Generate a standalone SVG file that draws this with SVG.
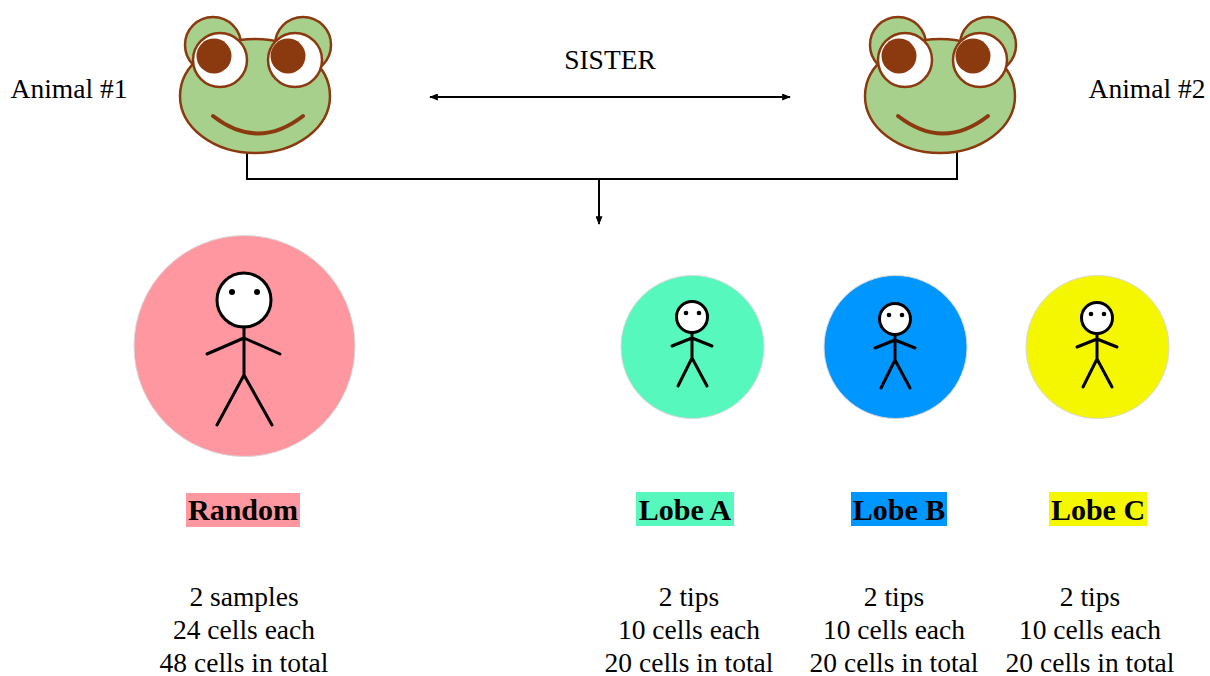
<svg xmlns="http://www.w3.org/2000/svg" width="1210" height="676" viewBox="0 0 1210 676">
  <style>
    .txt { font-family: "Liberation Serif", "Times New Roman", serif; font-size: 27.5px; fill: #000; text-anchor: middle; }
    .lbl { font-family: "Liberation Serif", "Times New Roman", serif; font-size: 30px; font-weight: bold; fill: #000; text-anchor: middle; }
    .skin { fill: #A8D08D; stroke: #8B3A0F; stroke-width: 2.5; }
    .eye { fill: #fff; stroke: #8B3A0F; stroke-width: 2.5; }
    .pupil { fill: #8B3A0F; }
    .smile { fill: none; stroke: #8B3A0F; stroke-width: 4; stroke-linecap: round; }
    .person { fill: none; stroke: #000; stroke-width: 3; stroke-linecap: round; stroke-linejoin: round; }
    .head { fill: #fff; stroke: #000; stroke-width: 3; }
    .wire { fill: none; stroke: #000; stroke-width: 2; }
    .disc { stroke: #d9d9d9; stroke-width: 1; }
  </style>
  <defs>
    <marker id="arrow" viewBox="0 0 10 8" refX="9" refY="4" markerWidth="9" markerHeight="7" markerUnits="userSpaceOnUse" orient="auto-start-reverse">
      <path d="M0,0 L10,4 L0,8 Z" fill="#000"/>
    </marker>
    <!-- frog face, centred on the head -->
    <g id="frog">
      <circle class="skin" cx="-42" cy="-51" r="28"/>
      <circle class="skin" cx="48" cy="-51" r="28"/>
      <ellipse class="skin" cx="0" cy="0" rx="75" ry="57"/>
      <circle class="eye" cx="-35" cy="-36" r="27"/>
      <circle class="eye" cx="40" cy="-36" r="27"/>
      <circle class="pupil" cx="-41" cy="-40" r="17.5"/>
      <circle class="pupil" cx="33" cy="-40" r="17.5"/>
      <path class="smile" d="M-42,20 Q3,55 48,20"/>
    </g>
    <!-- small stick figure, centred on the head -->
    <g id="kid">
      <circle class="head" cx="0" cy="0" r="15.5"/>
      <circle cx="-6" cy="-4" r="2.3" fill="#000"/>
      <circle cx="7" cy="-4" r="2.3" fill="#000"/>
      <path class="person" d="M0,16 V41 M-20,29 L0,21 L20,29 M-14,69 L0,41 L15,69"/>
    </g>
  </defs>

  <!-- connectors -->
  <g id="connectors">
    <line class="wire" x1="430" y1="97" x2="790" y2="97" marker-start="url(#arrow)" marker-end="url(#arrow)"/>
    <polyline class="wire" points="247,152 247,179 957,179 957,151"/>
    <line class="wire" x1="599" y1="179" x2="599" y2="224" marker-end="url(#arrow)"/>
  </g>

  <g id="animal1">
    <use href="#frog" x="255" y="96"/>
    <text class="txt" x="69" y="98">Animal #1</text>
  </g>
  <g id="animal2">
    <use href="#frog" x="940" y="96"/>
    <text class="txt" x="1147" y="98">Animal #2</text>
  </g>
  <g id="sister">
    <text class="txt" x="610" y="69">SISTER</text>
  </g>

  <g id="random">
    <circle class="disc" cx="244.5" cy="346" r="110.5" fill="#FF97A1"/>
    <circle class="head" cx="244" cy="300" r="27"/>
    <circle cx="232" cy="292" r="3" fill="#000"/>
    <circle cx="257" cy="292" r="3" fill="#000"/>
    <path class="person" d="M244,327 V375 M207,354 L244,338 L280,354 M217,425 L244,375 L272,425"/>
    <rect x="186" y="493" width="114" height="34" fill="#FF97A1"/>
    <text class="lbl" x="243" y="520">Random</text>
    <text class="txt" x="244" y="606">2 samples</text>
    <text class="txt" x="244" y="639">24 cells each</text>
    <text class="txt" x="244" y="672">48 cells in total</text>
  </g>

  <g id="lobeA">
    <circle class="disc" cx="692.5" cy="347" r="71.5" fill="#57F8BE"/>
    <use href="#kid" x="692" y="317"/>
    <rect x="636" y="492" width="98" height="34" fill="#57F8BE"/>
    <text class="lbl" x="685" y="520">Lobe A</text>
    <text class="txt" x="689" y="606">2 tips</text>
    <text class="txt" x="689" y="639">10 cells each</text>
    <text class="txt" x="689" y="672">20 cells in total</text>
  </g>

  <g id="lobeB">
    <circle class="disc" cx="895.5" cy="347" r="71.5" fill="#0096FF"/>
    <use href="#kid" x="895" y="319"/>
    <rect x="851" y="492" width="96" height="34" fill="#0096FF"/>
    <text class="lbl" x="899" y="520">Lobe B</text>
    <text class="txt" x="894" y="606">2 tips</text>
    <text class="txt" x="894" y="639">10 cells each</text>
    <text class="txt" x="894" y="672">20 cells in total</text>
  </g>

  <g id="lobeC">
    <circle class="disc" cx="1097.5" cy="347" r="71.5" fill="#F5F700"/>
    <use href="#kid" x="1097" y="318"/>
    <rect x="1049" y="492" width="98" height="34" fill="#F5F700"/>
    <text class="lbl" x="1098" y="520">Lobe C</text>
    <text class="txt" x="1090" y="606">2 tips</text>
    <text class="txt" x="1090" y="639">10 cells each</text>
    <text class="txt" x="1090" y="672">20 cells in total</text>
  </g>
</svg>
